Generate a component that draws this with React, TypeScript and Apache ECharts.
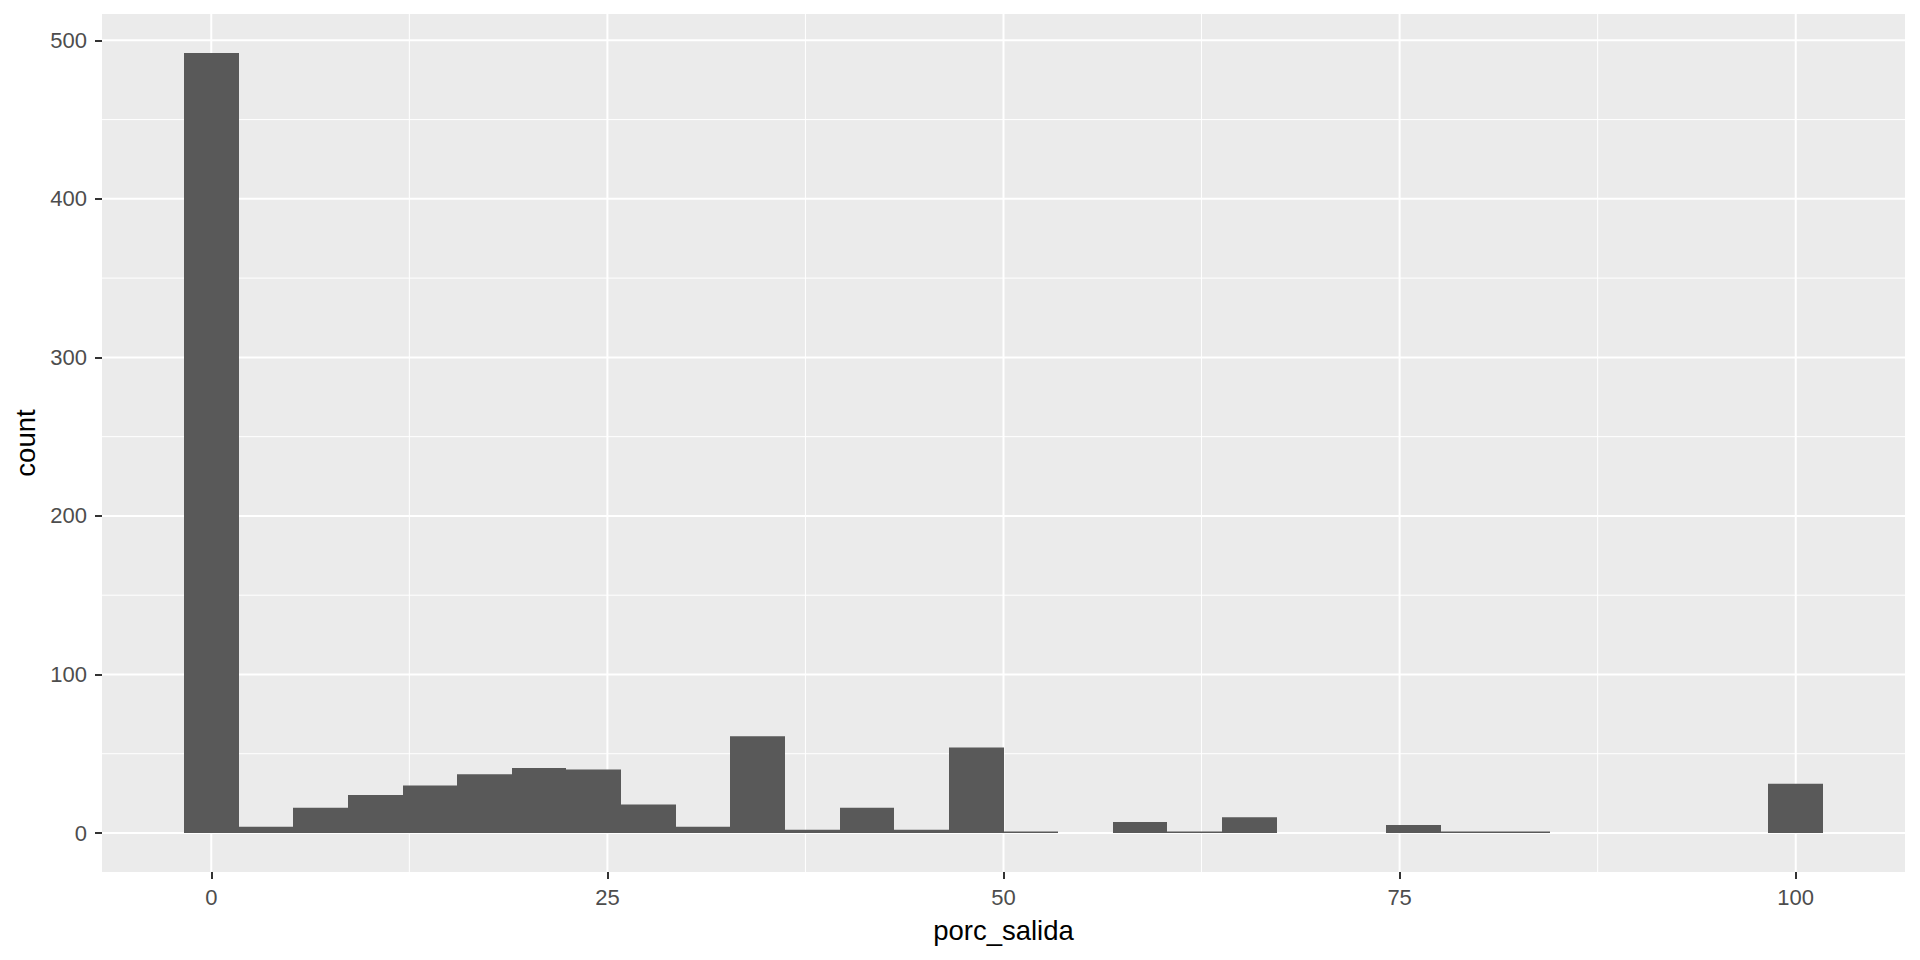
import React, { useEffect, useRef } from 'react';
import * as echarts from 'echarts';

// Histogram of porc_salida (30 bins, as in ggplot2 geom_histogram default)
const counts = [492, 4, 16, 24, 30, 37, 41, 40, 18, 4, 61, 2, 16, 2, 54, 1, 0, 7, 1, 10, 0, 0, 5, 1, 1, 0, 0, 0, 0, 31];
const dataMin = 0;
const dataMax = 100;
const xTicks = [0, 25, 50, 75, 100];
const xMinor = [12.5, 37.5, 62.5, 87.5];
const yTicks = [0, 100, 200, 300, 400, 500];
const yMinor = [50, 150, 250, 350, 450];
const xTitle = 'porc_salida';
const yTitle = 'count';

const FONT = '"Liberation Sans", Arial, sans-serif';

export default function App() {
  const ref = useRef<HTMLDivElement>(null);

  useEffect(() => {
    document.body.style.margin = '0';
    if (!ref.current) return;
    const chart = echarts.init(ref.current, undefined, { renderer: 'svg' });

    const binWidth = (dataMax - dataMin) / (counts.length - 1);
    const binData = counts.map((c, i) => [dataMin + i * binWidth, c]);
    const lo = dataMin - binWidth / 2;
    const hi = dataMax + binWidth / 2;
    const span = hi - lo;
    const xMin = lo - 0.05 * span;
    const xMax = hi + 0.05 * span;
    const yTop = Math.max(...counts);
    const yMin = -0.05 * yTop;
    const yMax = yTop * 1.05;

    const vLines = [
      ...xMinor.map((v) => [v, 1]),
      ...xTicks.map((v) => [v, 2]),
    ];
    const hLines = [
      ...yMinor.map((v) => [v, 1]),
      ...yTicks.map((v) => [v, 2]),
    ];

    chart.setOption({
      animation: false,
      grid: {
        left: 102,
        right: 15,
        top: 14,
        bottom: 88,
        show: true,
        backgroundColor: '#EBEBEB',
        borderWidth: 0,
      },
      xAxis: {
        type: 'value',
        min: xMin,
        max: xMax,
        axisLine: { show: false, onZero: false },
        splitLine: { show: false },
        axisTick: {
          show: true,
          customValues: xTicks,
          length: 7,
          lineStyle: { color: '#333333', width: 2 },
        },
        axisLabel: {
          customValues: xTicks,
          color: '#4D4D4D',
          fontSize: 22,
          fontFamily: FONT,
          margin: 14,
        },
        name: xTitle,
        nameLocation: 'middle',
        nameGap: 44,
        nameTextStyle: { color: '#000000', fontSize: 27.5, fontFamily: FONT },
      },
      yAxis: {
        type: 'value',
        min: yMin,
        max: yMax,
        axisLine: { show: false, onZero: false },
        splitLine: { show: false },
        axisTick: {
          show: true,
          customValues: yTicks,
          length: 7,
          lineStyle: { color: '#333333', width: 2 },
        },
        axisLabel: {
          customValues: yTicks,
          color: '#4D4D4D',
          fontSize: 22,
          fontFamily: FONT,
          margin: 15,
        },
        name: yTitle,
        nameLocation: 'middle',
        nameGap: 57,
        nameTextStyle: { color: '#000000', fontSize: 27.5, fontFamily: FONT },
      },
      series: [
        {
          type: 'custom',
          name: 'vgrid',
          z: 1,
          silent: true,
          data: vLines,
          encode: { x: 0 },
          renderItem: (params: any, api: any) => {
            const v = api.value(0);
            const w = api.value(1);
            const a = api.coord([v, yMin]);
            const b = api.coord([v, yMax]);
            return {
              type: 'line',
              shape: { x1: a[0], y1: a[1], x2: b[0], y2: b[1] },
              style: { stroke: '#FFFFFF', lineWidth: w },
            };
          },
        },
        {
          type: 'custom',
          name: 'hgrid',
          z: 1,
          silent: true,
          data: hLines,
          encode: { y: 0 },
          renderItem: (params: any, api: any) => {
            const v = api.value(0);
            const w = api.value(1);
            const a = api.coord([xMin, v]);
            const b = api.coord([xMax, v]);
            return {
              type: 'line',
              shape: { x1: a[0], y1: a[1], x2: b[0], y2: b[1] },
              style: { stroke: '#FFFFFF', lineWidth: w },
            };
          },
        },
        {
          type: 'custom',
          name: 'count',
          z: 2,
          data: binData,
          encode: { x: 0, y: 1 },
          renderItem: (params: any, api: any) => {
            const c = api.value(0);
            const v = api.value(1);
            const p0 = api.coord([c - binWidth / 2, 0]);
            const p1 = api.coord([c + binWidth / 2, v]);
            const x0 = Math.round(p0[0]);
            const x1 = Math.round(p1[0]);
            return {
              type: 'rect',
              shape: {
                x: x0,
                y: p1[1],
                width: x1 - x0,
                height: p0[1] - p1[1],
              },
              style: { fill: '#595959' },
            };
          },
        },
      ],
    });

    return () => {
      chart.dispose();
    };
  }, []);

  return <div ref={ref} style={{ width: 1920, height: 960 }} />;
}
